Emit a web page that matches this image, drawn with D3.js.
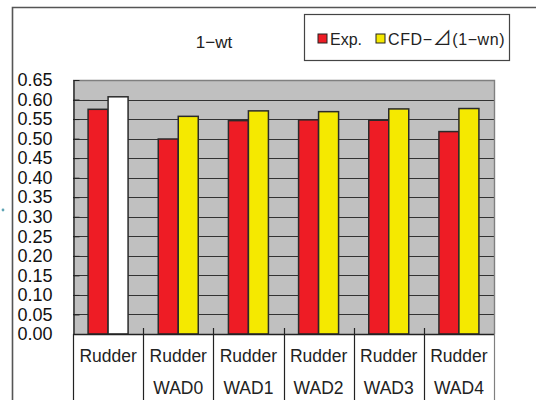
<!DOCTYPE html>
<html>
<head>
<meta charset="utf-8">
<script src="https://cdn.jsdelivr.net/npm/d3@7"></script>
<style>
  html, body { margin: 0; padding: 0; background: #fff; }
  svg { display: block; font-family: "Liberation Sans", Arial, sans-serif; }
</style>
</head>
<body>
<svg id="chart" width="536" height="400"></svg>
<script>
// Wake fraction (1-wt) per configuration
const categories = ["Rudder", "Rudder\nWAD0", "Rudder\nWAD1", "Rudder\nWAD2", "Rudder\nWAD3", "Rudder\nWAD4"];
const expValues = [0.575, 0.499, 0.546, 0.548, 0.547, 0.518];
const cfdValues = [0.607, 0.557, 0.571, 0.569, 0.576, 0.577];
const seriesNames = ["Exp.", "CFD\u2212\u22BF(1\u2212wn)"];
const yTicks = d3.range(0, 14).map(i => +(i * 0.05).toFixed(2));

const svg = d3.select("#chart");
const m = { left: 73, right: 494, top: 80, bottom: 334 };

// outer frame (left and top edges visible)
svg.append("path")
  .attr("d", "M12.5,400 V7.5 H536")
  .attr("fill", "none").attr("stroke", "#555").attr("stroke-width", 1.6);

const x = d3.scaleBand().domain(categories).range([m.left, m.right]).paddingInner(0).paddingOuter(0);
const y = d3.scaleLinear().domain([0, 0.65]).range([m.bottom, m.top]);

// plot background
svg.append("rect")
  .attr("x", m.left).attr("y", m.top)
  .attr("width", m.right - m.left).attr("height", m.bottom - m.top)
  .attr("fill", "#c0c0c0");

// horizontal gridlines
svg.append("g").selectAll("line").data(yTicks.filter(t => t > 0 && t < 0.65)).join("line")
  .attr("x1", m.left).attr("x2", m.right)
  .attr("y1", d => Math.round(y(d)) + 0.5).attr("y2", d => Math.round(y(d)) + 0.5)
  .attr("stroke", "#333").attr("stroke-width", 1);

// plot border top/right
svg.append("path")
  .attr("d", `M${m.left},${m.top + 0.5} H${m.right + 0.5} V${m.bottom}`)
  .attr("fill", "none").attr("stroke", "#808080").attr("stroke-width", 1.4);

// bars
const barW = x.bandwidth() * 0.285;
const rows = categories.map((c, i) => ({ c, i, exp: expValues[i], cfd: cfdValues[i] }));
const g = svg.append("g");
rows.forEach(r => {
  const cx = x(r.c) + x.bandwidth() / 2;
  g.append("rect")
    .attr("x", cx - barW).attr("y", y(r.exp))
    .attr("width", barW).attr("height", y(0) - y(r.exp))
    .attr("fill", "#ee1c25").attr("stroke", "#2a2a2a").attr("stroke-width", 1.5);
  g.append("rect")
    .attr("x", cx).attr("y", y(r.cfd))
    .attr("width", barW).attr("height", y(0) - y(r.cfd))
    .attr("fill", r.i === 0 ? "#ffffff" : "#f5e900").attr("stroke", "#2a2a2a").attr("stroke-width", 1.5);
});

// y axis
const yAxis = d3.axisLeft(y).tickValues(yTicks).tickFormat(d3.format(".2f")).tickSizeInner(-6).tickSizeOuter(0).tickPadding(21);
const ya = svg.append("g").attr("transform", `translate(${m.left + 0.5},0)`).call(yAxis);
ya.select(".domain").attr("stroke", "#222").attr("stroke-width", 1.4);
ya.selectAll(".tick line").attr("stroke", "#222");
ya.selectAll(".tick text").attr("font-size", 18).attr("fill", "#111")
  .attr("font-family", "Liberation Sans, Arial, sans-serif");

// category axis: baseline, separators and labels
svg.append("line")
  .attr("x1", m.left).attr("x2", m.right)
  .attr("y1", m.bottom + 0.5).attr("y2", m.bottom + 0.5)
  .attr("stroke", "#222").attr("stroke-width", 1.4);
const seps = categories.map(c => x(c)).concat([m.right]);
svg.append("g").selectAll("line").data(seps).join("line")
  .attr("x1", d => Math.round(d) + 0.5).attr("x2", d => Math.round(d) + 0.5)
  .attr("y1", (d, i) => (i === 0 || i === seps.length - 1) ? m.bottom : m.bottom - 6)
  .attr("y2", 400)
  .attr("stroke", (d, i) => i === seps.length - 1 ? "#808080" : "#222")
  .attr("stroke-width", 1.2);
const labels = svg.append("g");
rows.forEach(r => {
  const cx = x(r.c) + x.bandwidth() / 2;
  r.c.split("\n").forEach((line, k) => {
    labels.append("text")
      .attr("x", cx).attr("y", 362 + k * 32)
      .attr("text-anchor", "middle").attr("font-size", 17.5).attr("fill", "#222")
      .text(line);
  });
});

// title
svg.append("text").attr("x", 214).attr("y", 48).attr("text-anchor", "middle")
  .attr("font-size", 17).attr("fill", "#222").text("1\u2212wt");

// legend
const lg = svg.append("g");
lg.append("rect").attr("x", 304.5).attr("y", 14.5).attr("width", 205).attr("height", 46)
  .attr("fill", "#fff").attr("stroke", "#444").attr("stroke-width", 1.2);
const legendItems = [
  { name: seriesNames[0], color: "#ee1c25", sx: 318, tx: 330, ls: 0 },
  { name: seriesNames[1], color: "#f5e900", sx: 376, tx: 388, ls: 0.6 }
];
legendItems.forEach(it => {
  lg.append("rect").attr("x", it.sx).attr("y", 34).attr("width", 9).attr("height", 9)
    .attr("fill", it.color).attr("stroke", "#222").attr("stroke-width", 1);
  const t = lg.append("text").attr("x", it.tx).attr("y", 45).attr("font-size", 16)
    .attr("letter-spacing", it.ls).attr("fill", "#222");
  // the right-triangle glyph is set in a CJK face so it renders at full width
  it.name.split(/(\u22BF)/).filter(s => s.length).forEach(part => {
    const sp = t.append("tspan").text(part);
    if (part === "\u22BF") sp.attr("font-family", "Noto Sans CJK JP").attr("font-size", 19);
  });
});

// small marker at left margin
svg.append("circle").attr("cx", 3).attr("cy", 210).attr("r", 1.4).attr("fill", "#5fa4b4");
</script>
</body>
</html>
